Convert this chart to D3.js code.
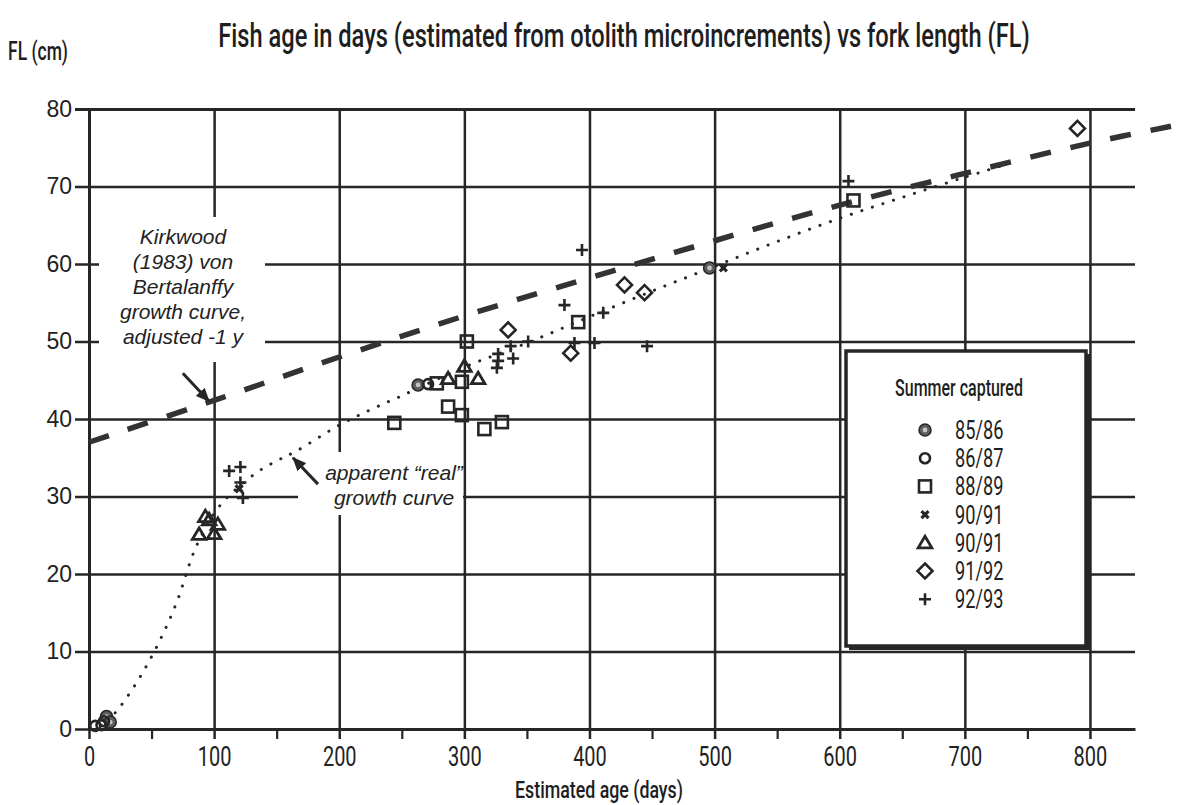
<!DOCTYPE html>
<html>
<head>
<meta charset="utf-8">
<script src="https://cdn.jsdelivr.net/npm/d3@7"></script>
<style>
  body { margin: 0; background: #fff; }
  svg { display: block; }
</style>
</head>
<body>
<svg id="chart" width="1184" height="805"></svg>
<script>
// Axis ticks
const xTicks = [0, 100, 200, 300, 400, 500, 600, 700, 800];
const xMinorTicks = [50, 150, 250, 350, 450, 550, 650, 750];
const yTicks = [0, 10, 20, 30, 40, 50, 60, 70, 80];

// Legend entries (summer of capture) and their symbols
const seasons = ["85/86", "86/87", "88/89", "90/91", "90/91", "91/92", "92/93"];
const symbolKinds = ["dotCircle", "circle", "square", "cross", "triangle", "diamond", "plus"];

// Observations: [estimated age (days), fork length (cm)]
const s8586 = [[14, 1.6], [17, 0.9], [263, 44.4], [496, 59.5]];
const s8687 = [[5, 0.4], [10, 0.5], [12, 1.0], [271, 44.5]];
const s8889 = [[278, 44.6], [244, 39.5], [287, 41.6], [298, 40.5], [298, 44.8], [302, 50.0],
               [316, 38.7], [330, 39.6], [391, 52.5], [611, 68.2]];
const s9091a = [[120, 31.0], [507, 59.5]];
const s9091b = [[88, 25.1], [93, 27.4], [96, 27.0], [100, 25.2], [103, 26.4],
                [287, 45.2], [300, 46.8], [311, 45.2]];
const s9192 = [[335, 51.5], [385, 48.5], [428, 57.3], [444, 56.3], [790, 77.5]];
const s9293 = [[112, 33.3], [121, 33.8], [121, 31.8], [123, 29.8], [326, 46.6], [327, 47.5],
               [327, 48.4], [337, 49.4], [339, 47.8], [351, 50.0], [380, 54.7], [388, 49.8],
               [394, 61.8], [404, 49.8], [411, 53.7], [446, 49.4], [607, 70.7]];
const seriesData = [s8586, s8687, s8889, s9091a, s9091b, s9192, s9293];

// Kirkwood (1983) von Bertalanffy curve, adjusted -1 y
const kirkwoodAge = [0, 100, 200, 300, 400, 500, 600, 700, 800, 872];
const kirkwoodFL = [37.0, 42.4, 48.0, 53.3, 58.2, 63.0, 67.6, 71.7, 75.6, 78.0];

// Apparent "real" growth curve
const realAge = [15, 25, 40, 55, 70, 85, 100, 110, 120, 135, 150, 165, 200, 225, 250, 300,
                 350, 400, 450, 500, 550, 600, 650, 700, 730];
const realFL = [1.0, 2.9, 6.5, 10.9, 16.3, 23.3, 27.8, 29.8, 31.3, 33.2, 34.6, 35.8, 39.2, 41.2,
                43.0, 46.7, 49.8, 53.2, 56.5, 59.7, 62.9, 65.9, 68.6, 71.2, 72.7];

const ink = "#262626";
const svg = d3.select("#chart");

const x = d3.scaleLinear().domain([0, 836]).range([89, 1135]);
const y = d3.scaleLinear().domain([0, 80]).range([729, 109]);

const condensed = "Roboto, 'Noto Sans', sans-serif";
const helv = "'Liberation Sans', Arial, Helvetica, sans-serif";

function squeeze(sel, f) {
  sel.each(function () {
    const n = this.getComputedTextLength();
    this.setAttribute("textLength", (n * f).toFixed(1));
    this.setAttribute("lengthAdjust", "spacingAndGlyphs");
  });
}

// Narrow-face label: drawn at (cx, cy) and scaled horizontally to the given width
function narrowText(parent, str, cx, cy, size, width, anchor) {
  const g = parent.append("g").attr("transform", `translate(${cx},${cy})`);
  const t = g.append("text").attr("text-anchor", anchor || "middle")
    .attr("font-family", condensed).attr("font-size", size).attr("font-weight", 500)
    .attr("fill", "#1e1e1e").text(str);
  const n = t.node().getComputedTextLength();
  t.attr("transform", `scale(${(width / n).toFixed(4)},1)`);
  return t;
}

// ---- Grid and axes ----
const yAxis = d3.axisLeft(y).tickValues(yTicks).tickSize(-(x.range()[1] - x.range()[0]))
  .tickSizeOuter(0).tickPadding(17);
const gy = svg.append("g").attr("transform", `translate(${x(0)},0)`).call(yAxis);
gy.selectAll(".tick line").attr("x1", -14).attr("stroke", ink)
  .attr("stroke-width", d => (d === 80 ? 3 : 2.5));
gy.selectAll(".tick text").attr("font-family", helv).attr("font-size", 23).attr("fill", "#222");
gy.select(".domain").attr("stroke", ink).attr("stroke-width", 3);

const xAxis = d3.axisBottom(x).tickValues(xTicks).tickSize(-(y(0) - y(80)))
  .tickSizeOuter(0).tickPadding(18);
const gx = svg.append("g").attr("transform", `translate(0,${y(0)})`).call(xAxis);
gx.selectAll(".tick line").attr("y1", 10).attr("stroke", ink).attr("stroke-width", 2.5);
gx.selectAll(".tick text").attr("font-family", condensed).attr("font-size", 27)
  .attr("font-weight", 400).attr("fill", "#222").call(squeeze, 0.74);
gx.select(".domain").attr("stroke", ink).attr("stroke-width", 3.2);

const xMinor = d3.axisBottom(x).tickValues(xMinorTicks).tickSize(10).tickSizeOuter(0).tickFormat("");
const gxm = svg.append("g").attr("transform", `translate(0,${y(0)})`).call(xMinor);
gxm.select(".domain").remove();
gxm.selectAll(".tick line").attr("stroke", ink).attr("stroke-width", 2.2);

// White panels behind the annotations
svg.append("rect").attr("x", 99).attr("y", 217).attr("width", 166).attr("height", 145).attr("fill", "#fff");
svg.append("rect").attr("x", 298).attr("y", 452).attr("width", 165).attr("height", 63).attr("fill", "#fff");

// ---- Curves ----
const kirkwood = kirkwoodAge.map((a, i) => [a, kirkwoodFL[i]]);
const realCurve = realAge.map((a, i) => [a, realFL[i]]);
const line = d3.line().x(d => x(d[0])).y(d => y(d[1])).curve(d3.curveCatmullRom.alpha(0.5));

svg.append("path").attr("d", line(realCurve)).attr("fill", "none").attr("stroke", ink)
  .attr("stroke-width", 3).attr("stroke-linecap", "round").attr("stroke-dasharray", "0.1,11");

svg.append("path").attr("d", line(kirkwood)).attr("fill", "none").attr("stroke", "#333")
  .attr("stroke-width", 5.5).attr("stroke-dasharray", "21,20");

// ---- Symbols ----
function drawSymbol(g, kind) {
  const sw = 2.6;
  switch (kind) {
    case "dotCircle":
      g.append("circle").attr("r", 6).attr("fill", "#5e5e5e").attr("stroke", ink).attr("stroke-width", 1.5);
      g.append("circle").attr("r", 2.4).attr("fill", "#c4c4c4");
      break;
    case "circle":
      g.append("circle").attr("r", 5).attr("fill", "none").attr("stroke", ink).attr("stroke-width", sw);
      break;
    case "square":
      g.append("rect").attr("x", -6).attr("y", -6).attr("width", 12).attr("height", 12)
        .attr("fill", "none").attr("stroke", ink).attr("stroke-width", sw);
      break;
    case "cross":
      g.append("path").attr("d", "M-3.5,-3.5L3.5,3.5M3.5,-3.5L-3.5,3.5")
        .attr("stroke", ink).attr("stroke-width", 3.2);
      break;
    case "triangle":
      g.append("path").attr("d", "M0,-6.5L6.8,5L-6.8,5Z")
        .attr("fill", "none").attr("stroke", ink).attr("stroke-width", 2.8).attr("stroke-linejoin", "miter");
      break;
    case "diamond":
      g.append("path").attr("d", "M0,-7.5L7.5,0L0,7.5L-7.5,0Z")
        .attr("fill", "none").attr("stroke", ink).attr("stroke-width", sw);
      break;
    case "plus":
      g.append("path").attr("d", "M-6,0H6M0,-6V6").attr("stroke", ink).attr("stroke-width", sw);
      break;
  }
}

const marks = svg.append("g");
seriesData.forEach((pts, i) => {
  marks.append("g").selectAll("g").data(pts).join("g")
    .attr("transform", d => `translate(${x(d[0])},${y(d[1])})`)
    .each(function () { drawSymbol(d3.select(this), symbolKinds[i]); });
});

// ---- Annotations ----
const defs = svg.append("defs");
defs.append("marker").attr("id", "arrowHead").attr("viewBox", "0 0 14 12")
  .attr("refX", 13).attr("refY", 6).attr("markerWidth", 14).attr("markerHeight", 12)
  .attr("markerUnits", "userSpaceOnUse").attr("orient", "auto")
  .append("path").attr("d", "M0,0L14,6L0,12Z").attr("fill", ink);

// arrow to the von Bertalanffy curve
svg.append("line").attr("x1", x(75)).attr("y1", y(45.9)).attr("x2", x(96)).attr("y2", y(42.3))
  .attr("stroke", ink).attr("stroke-width", 3).attr("marker-end", "url(#arrowHead)");
// arrow to the apparent growth curve
svg.append("line").attr("x1", x(183)).attr("y1", y(31.6)).attr("x2", x(163)).attr("y2", y(35.0))
  .attr("stroke", ink).attr("stroke-width", 3).attr("marker-end", "url(#arrowHead)");

const kirkLines = ["Kirkwood", "(1983) von", "Bertalanffy", "growth curve,", "adjusted -1 y"];
svg.append("g").selectAll("text").data(kirkLines).join("text")
  .attr("x", 183).attr("y", (d, i) => 244 + i * 25)
  .attr("text-anchor", "middle").attr("font-family", helv).attr("font-style", "italic")
  .attr("font-size", 21).attr("fill", "#222").text(d => d);

const realLines = ["apparent \u201creal\u201d", "growth curve"];
svg.append("g").selectAll("text").data(realLines).join("text")
  .attr("x", 394).attr("y", (d, i) => 480 + i * 25)
  .attr("text-anchor", "middle").attr("font-family", helv).attr("font-style", "italic")
  .attr("font-size", 21).attr("fill", "#222").text(d => d);

// ---- Titles ----
narrowText(svg, "Fish age in days (estimated from otolith microincrements) vs fork length (FL)",
  624, 47, 34, 812);
narrowText(svg, "FL (cm)", 38, 60, 25, 60);
narrowText(svg, "Estimated age (days)", 599, 798, 24, 168);

// ---- Legend ----
const lg = svg.append("g");
lg.append("line").attr("x1", 849).attr("x2", 1090).attr("y1", 648.5).attr("y2", 648.5)
  .attr("stroke", ink).attr("stroke-width", 3);
lg.append("line").attr("x1", 1088.5).attr("x2", 1088.5).attr("y1", 354).attr("y2", 650)
  .attr("stroke", ink).attr("stroke-width", 3);
lg.append("rect").attr("x", 846).attr("y", 351).attr("width", 240).attr("height", 295)
  .attr("fill", "#fff").attr("stroke", ink).attr("stroke-width", 3.5);
narrowText(lg, "Summer captured", 959, 396, 24, 128);

const rows = lg.selectAll("g.row").data(seasons).join("g").attr("class", "row")
  .attr("transform", (d, i) => `translate(925,${430 + i * 28.2})`);
rows.each(function (d, i) { drawSymbol(d3.select(this), symbolKinds[i]); });
rows.append("text").attr("x", 30).attr("y", 9)
  .attr("font-family", condensed).attr("font-size", 26).attr("font-weight", 400).attr("fill", "#1e1e1e")
  .text(d => d).call(squeeze, 0.7);
</script>
</body>
</html>
